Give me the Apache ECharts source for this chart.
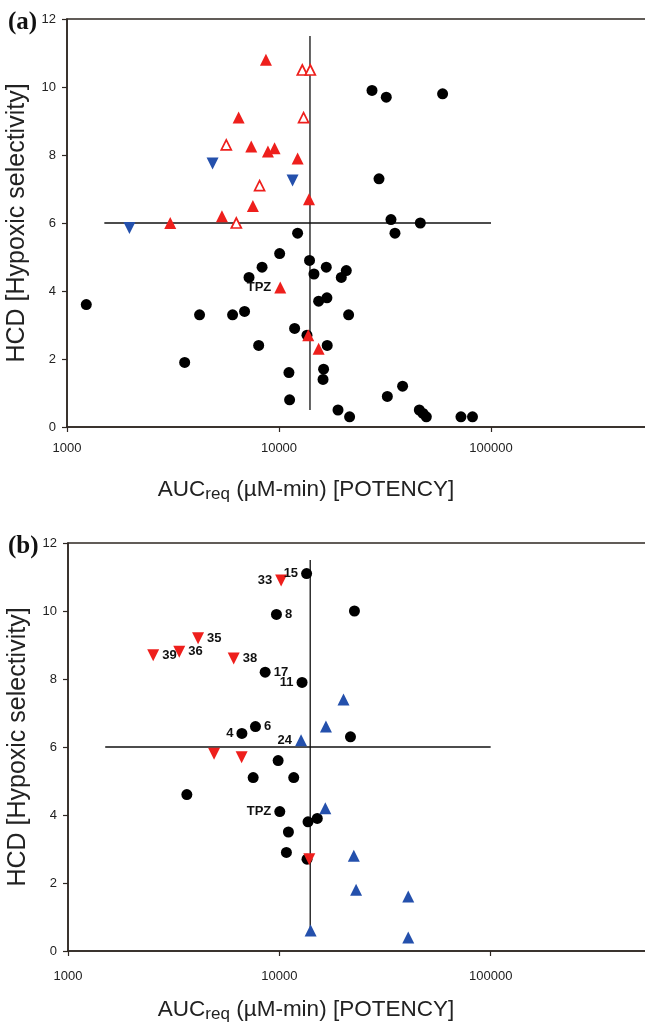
<!DOCTYPE html>
<html>
<head>
<meta charset="utf-8">
<script src="https://cdn.jsdelivr.net/npm/echarts@6/dist/echarts.min.js"></script>
<style>
html, body { margin: 0; padding: 0; background: #fff; }
#viz { width: 645px; height: 1024px; }
</style>
</head>
<body>
<div id="viz"></div>
<script>
// ---- panel (a) values: [AUCreq, HCD] ----
var aRedFilled = [[8680, 10.8], [6450, 9.1], [7400, 8.25], [8870, 8.1], [9530, 8.2], [12240, 7.9],
  [7530, 6.5], [5380, 6.2], [3070, 6.0], [13850, 6.7], [10140, 4.1], [13740, 2.7], [15380, 2.3]];
var aRedFilledNames = ['', '', '', '', '', '', '', '', '', '', 'TPZ', '', ''];
var aRedOpen = [[12880, 10.5], [14050, 10.5], [13060, 9.1], [5640, 8.3], [8100, 7.1], [6290, 6.0]];
var aBlueDown = [[1970, 5.85], [4860, 7.75], [11590, 7.25]];
var aBlack = [[27460, 9.9], [32060, 9.7], [59120, 9.8], [29630, 7.3], [33740, 6.1], [46400, 6.0],
  [35240, 5.7], [12240, 5.7], [10070, 5.1], [13930, 4.9], [8320, 4.7], [7220, 4.4], [14620, 4.5],
  [16710, 4.7], [19670, 4.4], [20770, 4.6], [15380, 3.7], [16830, 3.8], [21300, 3.3], [1233, 3.6],
  [4220, 3.3], [6040, 3.3], [6880, 3.4], [11850, 2.9], [13550, 2.7], [8020, 2.4], [16880, 2.4],
  [3590, 1.9], [11140, 1.6], [16230, 1.7], [16130, 1.4], [11220, 0.8], [18980, 0.5], [21530, 0.3],
  [38280, 1.2], [32430, 0.9], [45900, 0.5], [47800, 0.4], [49540, 0.3], [72150, 0.3], [81800, 0.3]];

// ---- panel (b) values ----
var bBlack = [[13460, 11.1], [9690, 9.9], [22670, 10.0], [8570, 8.2], [12810, 7.9], [7710, 6.6],
  [6650, 6.4], [21710, 6.3], [9870, 5.6], [7520, 5.1], [11700, 5.1], [3650, 4.6], [10050, 4.1],
  [13670, 3.8], [15120, 3.9], [11040, 3.5], [10800, 2.9], [13520, 2.7]];
var bBlackNames = ['15', '8', '', '17', '11', '6', '4', '', '', '', '', '', 'TPZ', '', '', '', '', ''];
var bRedDown = [[10200, 10.9], [4125, 9.2], [3360, 8.8], [2530, 8.7], [6080, 8.6], [4910, 5.8],
  [6630, 5.7], [13860, 2.7]];
var bRedDownNames = ['33', '35', '36', '39', '38', '', '', ''];
var bBlueUp = [[20120, 7.4], [16620, 6.6], [12670, 6.2], [16500, 4.2], [22510, 2.8], [23080, 1.8],
  [40740, 1.6], [40740, 0.4], [14060, 0.6]];
var bBlueUpNames = ['', '', '24', '', '', '', '', '', ''];

// reference lines (same in both panels)
var refH = [[1500, 6], [100000, 6]];
var refV = [[14000, 0.5], [14000, 11.5]];

var xTicks = [1000, 10000, 100000];
var yTicks = [0, 2, 4, 6, 8, 10, 12];

var RED = '#ee1f1c', BLUE = '#2450ac', AXIS = '#2e2722';
var leftLabels = {'15': 1, '33': 1, '11': 1, '4': 1, '24': 1, 'TPZ': 1};
var FONT = '"Liberation Sans", Arial, sans-serif';

function withNames(pts, names) {
  return pts.map(function (p, i) {
    return {value: p, name: names ? names[i] : ''};
  });
}

function pointLabel() {
  return {
    show: true,
    formatter: '{b}',
    fontFamily: '"Liberation Sans Narrow", "Liberation Sans", Arial, sans-serif',
    fontWeight: 'bold',
    fontSize: 13,
    color: '#111',
    distance: 3
  };
}

function labelled(items) {
  // put label on left or right of its point
  items.forEach(function (d) {
    if (d.name) {
      d.label = {position: leftLabels[d.name] ? 'left' : 'right'};
    } else {
      d.label = {show: false};
    }
  });
  return items;
}

function scatter(idx, data, symbol, color, opts) {
  var s = {
    type: 'scatter',
    xAxisIndex: idx, yAxisIndex: idx,
    data: data,
    symbol: symbol,
    symbolSize: symbol == 'circle' ? 11 : 12,
    itemStyle: {color: color, opacity: 1},
    z: 3,
    silent: true
  };
  for (var k in opts) s[k] = opts[k];
  return s;
}

function refLine(idx, data) {
  return {
    type: 'line', xAxisIndex: idx, yAxisIndex: idx,
    data: data, showSymbol: false, silent: true, z: 2,
    lineStyle: {color: '#111', width: 1.3}
  };
}

function xAxisDef(idx, labelMargin, gap) {
  return {
    type: 'log', logBase: 10, gridIndex: idx, min: 1000, max: 1000000,
    name: '{a|AUC}{b|req}{a| (\u00b5M-min) [POTENCY]}',
    nameLocation: 'middle', nameGap: gap,
    nameTextStyle: {
      rich: {
        a: {fontSize: 22.5, lineHeight: 27, verticalAlign: 'middle', color: '#222', fontFamily: FONT},
        b: {fontSize: 17, lineHeight: 17, verticalAlign: 'bottom', color: '#222', fontFamily: FONT}
      },
      padding: [0, 158, 0, 0]
    },
    axisLine: {lineStyle: {color: AXIS, width: 1.5}},
    axisTick: {show: true, length: 5, lineStyle: {color: AXIS, width: 1.2}},
    minorTick: {show: false},
    splitLine: {show: false},
    axisLabel: {
      fontSize: 13, color: '#222', margin: labelMargin, fontFamily: FONT,
      formatter: function (v) { return xTicks.indexOf(Math.round(v)) >= 0 ? String(Math.round(v)) : ''; }
    }
  };
}

function yAxisDef(idx) {
  return {
    type: 'value', gridIndex: idx, min: yTicks[0], max: yTicks[yTicks.length - 1], interval: 2,
    name: 'HCD [Hypoxic selectivity]',
    nameLocation: 'middle', nameGap: 37,
    nameTextStyle: {fontSize: 25, color: '#222', fontFamily: FONT},
    axisLine: {show: true, lineStyle: {color: AXIS, width: 1.5}},
    axisTick: {show: true, length: 5, lineStyle: {color: AXIS, width: 1.2}},
    splitLine: {show: false},
    axisLabel: {fontSize: 13, color: '#222', margin: 11, fontFamily: FONT}
  };
}

var panelTag = {fontFamily: '"Liberation Serif", "Times New Roman", serif', fontWeight: 'bold', fontSize: 25, fill: '#111'};

var option = {
  animation: false,
  backgroundColor: '#fff',
  grid: [
    {left: 67, top: 19, height: 408, right: -58, outerBoundsMode: 'none', containLabel: false,
      show: true, borderColor: AXIS, borderWidth: 1.5, backgroundColor: 'transparent'},
    {left: 68, top: 543, height: 408, right: -57, outerBoundsMode: 'none', containLabel: false,
      show: true, borderColor: AXIS, borderWidth: 1.5, backgroundColor: 'transparent'}
  ],
  xAxis: [xAxisDef(0, 15, 49), xAxisDef(1, 19, 45)],
  yAxis: [yAxisDef(0), yAxisDef(1)],
  graphic: [
    {type: 'text', left: 8, top: 10, style: Object.assign({text: '(a)'}, panelTag)},
    {type: 'text', left: 8, top: 534, style: Object.assign({text: '(b)'}, panelTag)}
  ],
  series: [
    refLine(0, refH), refLine(0, refV),
    scatter(0, aBlack, 'circle', '#000'),
    scatter(0, labelled(withNames(aRedFilled, aRedFilledNames)), 'triangle', RED, {label: pointLabel()}),
    scatter(0, aRedOpen, 'triangle', '#fff', {symbolSize: 10, itemStyle: {color: '#fff', opacity: 1, borderColor: RED, borderWidth: 1.7}}),
    scatter(0, aBlueDown, 'triangle', BLUE, {symbolRotate: 180}),

    refLine(1, refH), refLine(1, refV),
    scatter(1, labelled(withNames(bBlack, bBlackNames)), 'circle', '#000', {label: pointLabel()}),
    scatter(1, labelled(withNames(bRedDown, bRedDownNames)), 'triangle', RED, {symbolRotate: 180, label: pointLabel()}),
    scatter(1, labelled(withNames(bBlueUp, bBlueUpNames)), 'triangle', BLUE, {label: pointLabel()})
  ]
};

var myChart = echarts.init(document.getElementById('viz'));
myChart.setOption(option);
</script>
</body>
</html>
